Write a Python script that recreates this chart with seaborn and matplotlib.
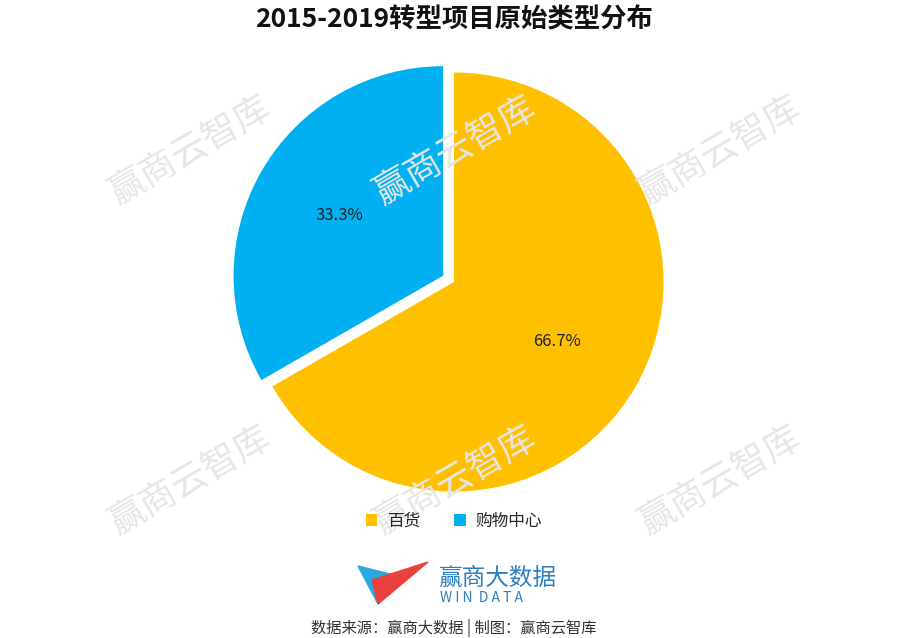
import matplotlib
matplotlib.use("Agg")
import matplotlib.pyplot as plt
import seaborn as sns
from matplotlib.patches import Polygon

sns.set_theme(style="white")
plt.rcParams['font.family'] = ['Noto Sans CJK SC', 'DejaVu Sans']

categories = ["百货", "购物中心"]
values = [66.7, 33.3]
colors = ["#FFC000", "#00B0F0"]
title = "2015-2019转型项目原始类型分布"

fig = plt.figure(figsize=(9.08, 6.38), dpi=100)
fig.patch.set_facecolor("white")

# watermarks
for (x, y) in [(190, 150), (455, 150), (720, 150), (190, 480), (455, 480), (720, 480)]:
    fig.text(x / 908, 1 - y / 638, "赢商云智库", fontsize=26, color="#e6e6e6",
             rotation=30, ha="center", va="center", zorder=0)

ax = fig.add_axes([(454 - 220) / 908, (638 - 282 - 220) / 638, 440 / 908, 440 / 638])
wedges, texts, autotexts = ax.pie(values, colors=colors, startangle=90, counterclock=False,
                                  explode=[0, 0.06], autopct="%.1f%%", pctdistance=0.57,
                                  textprops=dict(fontsize=12, color="#222222"),
                                  wedgeprops=dict(linewidth=0))
ax.set_xlim(-1.05, 1.05)
ax.set_ylim(-1.05, 1.05)
ax.set_aspect("equal")
ax.patch.set_alpha(0)

fig.text(0.5, 1 - 20 / 638, title, ha="center", va="center", fontsize=19, fontweight="bold", color="#111111")

leg = fig.legend(wedges, categories, loc="center", bbox_to_anchor=(0.5, 1 - 521 / 638),
                 ncol=2, frameon=False, fontsize=12, handlelength=0.7, handleheight=0.7,
                 columnspacing=2.0, handletextpad=0.6)

# logo
lax = fig.add_axes([0, 0, 1, 1])
lax.set_xlim(0, 908); lax.set_ylim(638, 0); lax.axis("off"); lax.patch.set_alpha(0)
lax.add_patch(Polygon([[358, 566], [378, 604], [398, 576]], closed=True, color="#29A9E0"))
lax.add_patch(Polygon([[372, 580], [378, 604], [428, 562]], closed=True, color="#E8413C"))
lax.text(438, 578, "赢商大数据", fontsize=17, color="#2C7FC0", va="center", ha="left")
lax.text(440, 598, "W I N  D A T A", fontsize=10, color="#2C7FC0", va="center", ha="left")
fig.text(0.5, 1 - 628 / 638, "数据来源：赢商大数据 | 制图：赢商云智库", ha="center", va="center",
         fontsize=11, color="#333333")

fig.savefig("out.png", dpi=100, facecolor="white")
